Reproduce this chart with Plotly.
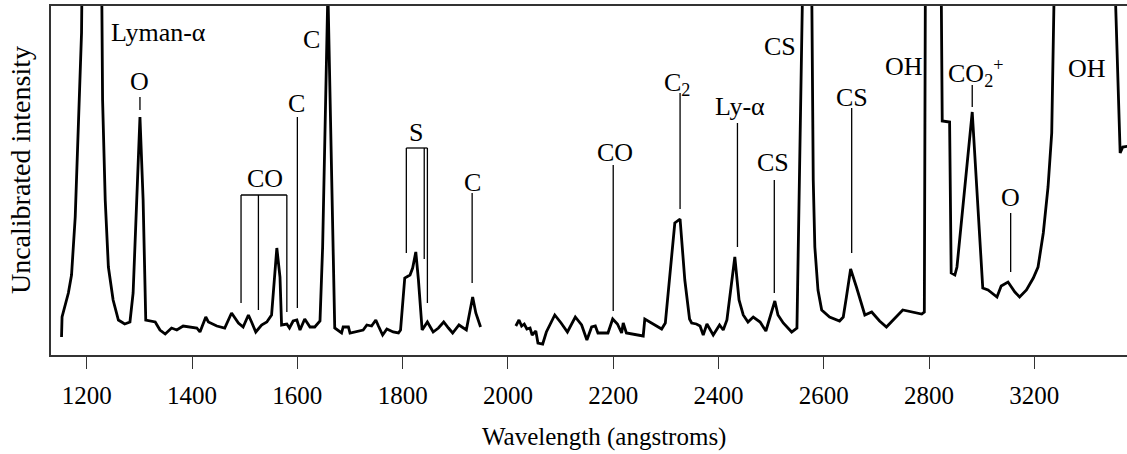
import plotly.graph_objects as go

# Short-wavelength channel of the spectrum (wavelength in angstroms, raw counts)
wl_a = [1152, 1153, 1165, 1171, 1178, 1184, 1190, 1212, 1230, 1235,
        1241, 1250, 1260, 1272, 1282, 1288, 1295, 1301, 1307, 1312,
        1330, 1339, 1349, 1361, 1371, 1383, 1409, 1415, 1426, 1431,
        1447, 1462, 1475, 1488, 1497, 1507, 1513, 1521, 1532, 1542,
        1551, 1561, 1567, 1570, 1580, 1585, 1592, 1599, 1605, 1614,
        1624, 1633, 1643, 1648, 1658, 1668, 1671, 1684, 1687, 1697,
        1700, 1725, 1732, 1741, 1749, 1754, 1762, 1770, 1782, 1792,
        1796, 1804, 1814, 1819, 1825, 1830, 1837, 1847, 1858, 1868,
        1878, 1887, 1895, 1907, 1921, 1933, 1939, 1948]
int_a = [18, 38, 62, 80, 138, 222, 322, 1500, 255, 155,
         88, 55, 35, 31, 33, 62, 155, 238, 155, 35,
         33, 25, 21, 27, 25, 29, 27, 23, 38, 33,
         29, 27, 42, 32, 28, 40, 33, 23, 30, 33,
         40, 107, 78, 30, 31, 27, 34, 35, 25, 36,
         28, 28, 34, 108, 365, 108, 27, 22, 28, 28,
         22, 25, 30, 29, 35, 29, 20, 26, 23, 22,
         25, 77, 80, 87, 103, 75, 25, 33, 23, 27,
         33, 27, 22, 30, 25, 58, 42, 28]

# Long-wavelength channel
wl_b = [2015, 2021, 2026, 2031, 2036, 2042, 2046, 2053, 2057, 2066,
        2073, 2089, 2101, 2113, 2128, 2140, 2150, 2159, 2166, 2171,
        2190, 2199, 2208, 2216, 2219, 2225, 2257, 2260, 2292, 2299,
        2317, 2327, 2336, 2345, 2349, 2358, 2365, 2371, 2378, 2390,
        2402, 2409, 2416, 2431, 2439, 2447, 2456, 2466, 2479, 2490,
        2507, 2513, 2523, 2539, 2549, 2560, 2577, 2580, 2583, 2589,
        2596, 2611, 2630, 2637, 2643, 2651, 2662, 2678, 2691, 2700,
        2706, 2719, 2750, 2786, 2791, 2793, 2823, 2825, 2839, 2842,
        2849, 2853, 2882, 2902, 2912, 2929, 2937, 2950, 2963, 2972,
        2985, 2998, 3007, 3017, 3026, 3033, 3036, 3038, 3153, 3159,
        3163, 3168, 3180]
int_b = [29, 35, 29, 31, 26, 27, 20, 24, 12, 11,
         23, 40, 32, 23, 38, 30, 15, 28, 29, 22,
         22, 36, 31, 22, 32, 22, 19, 36, 26, 32,
         132, 136, 75, 36, 32, 31, 29, 20, 31, 20,
         30, 25, 35, 98, 55, 40, 33, 38, 33, 24,
         54, 40, 32, 23, 27, 375, 375, 175, 108, 65,
         45, 38, 34, 38, 58, 86, 68, 40, 43, 37,
         34, 28, 45, 41, 43, 375, 375, 234, 233, 82,
         80, 88, 243, 67, 65, 58, 69, 73, 63, 58,
         65, 77, 88, 122, 168, 222, 288, 375, 375, 272,
         202, 208, 209]

tick_vals = [1200, 1400, 1600, 1800, 2000, 2200, 2400, 2600, 2800, 3000]
tick_text = ["1200", "1400", "1600", "1800", "2000", "2200", "2400",
             "2600", "2800", "3200"]

# Line identifications: label text and where its centre sits
label_text = ["Lyman-α", "O", "C", "C", "CO", "S", "C", "CO", "C<sub>2</sub>",
              "Ly-α", "CS", "CS", "CS", "OH", "CO<sub>2</sub><sup>+</sup>", "O", "OH"]
label_wl = [1336, 1301, 1627, 1599, 1538, 1825, 1933, 2203, 2321,
            2440, 2503, 2516, 2653, 2752, 2889, 2955, 3100]
label_int = [323, 274, 316, 252, 177, 223, 173, 203, 271,
             249, 193, 309, 258, 289, 282, 158, 287]

# Leader lines from labels down to their features
lead_wl = [1301, 1600, 1932, 2200, 2327, 2436, 2506, 2653, 2882, 2955]
lead_top = [258, 238, 162, 190, 262, 232, 175, 247, 270, 142]
lead_bot = [245, 47, 72, 44, 146, 108, 62, 102, 248, 83]

# Bracketed groups of lines (CO bands and the S triplet)
co_wl = [1493, 1526, 1580]
co_bot = [52, 45, 43]
co_bar = 160
s_wl = [1807, 1841, 1847]
s_bot = [102, 96, 52]
s_bar = 207

FONT = "Liberation Serif"
INK = "black"

wl = wl_a + [None] + wl_b
counts = int_a + [None] + int_b

fig = go.Figure()
fig.add_trace(go.Scatter(
    x=wl, y=counts, mode="lines", connectgaps=False,
    line=dict(color=INK, width=2.8), hoverinfo="skip", showlegend=False,
))

shapes = []
lw = dict(color=INK, width=1.3)
for x, y0, y1 in zip(lead_wl, lead_bot, lead_top):
    shapes.append(dict(type="line", xref="x", yref="y", x0=x, x1=x, y0=y0, y1=y1, line=lw))
for xs, bots, bar in ((co_wl, co_bot, co_bar), (s_wl, s_bot, s_bar)):
    shapes.append(dict(type="line", xref="x", yref="y", x0=xs[0], x1=xs[-1],
                       y0=bar, y1=bar, line=lw))
    for x, b in zip(xs, bots):
        shapes.append(dict(type="line", xref="x", yref="y", x0=x, x1=x,
                           y0=b, y1=bar, line=lw))

annotations = []
for t, x, y in zip(label_text, label_wl, label_int):
    annotations.append(dict(text=t, x=x, y=y, xref="x", yref="y", showarrow=False,
                            xanchor="center", yanchor="middle",
                            font=dict(family=FONT, size=26, color=INK)))
annotations.append(dict(text="Wavelength (angstroms)", x=0.514, y=-0.235,
                        xref="paper", yref="paper", showarrow=False,
                        xanchor="center", yanchor="middle",
                        font=dict(family=FONT, size=25, color=INK)))
annotations.append(dict(text="Uncalibrated intensity", x=-0.0288, y=0.53,
                        xref="paper", yref="paper", showarrow=False, textangle=-90,
                        xanchor="center", yanchor="middle",
                        font=dict(family=FONT, size=28, color=INK)))

fig.update_layout(
    width=1127, height=454, autosize=False,
    margin=dict(l=51, r=0, t=6, b=99, pad=0),
    paper_bgcolor="white", plot_bgcolor="white",
    shapes=shapes, annotations=annotations,
    font=dict(family=FONT, size=25, color=INK),
)
fig.update_xaxes(
    range=[1132, 3176], tickmode="array", tickvals=tick_vals, ticktext=tick_text,
    ticks="outside", ticklen=12, tickwidth=1.3, tickcolor="#333",
    ticklabelstandoff=5,
    showline=True, linecolor="#333", linewidth=1.5, mirror=True,
    showgrid=False, zeroline=False,
    tickfont=dict(family=FONT, size=25, color=INK),
)
fig.update_yaxes(
    range=[0, 349], showticklabels=False, ticks="",
    showline=True, linecolor="#333", linewidth=1.5, mirror=False,
    showgrid=False, zeroline=False,
)

fig.write_html("out.html")
